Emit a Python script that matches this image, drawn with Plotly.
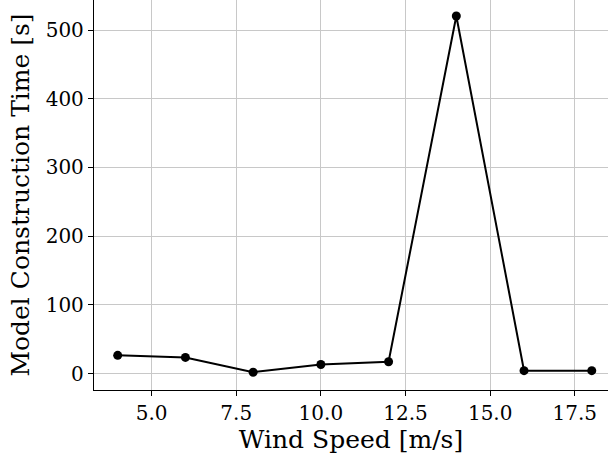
import plotly.graph_objects as go

wind_speed = [4, 6, 8, 10, 12, 14, 16, 18]
construction_time = [26.6, 23.5, 2.0, 13.2, 17.2, 520.5, 4.3, 4.3]

x_ticks = [5.0, 7.5, 10.0, 12.5, 15.0, 17.5]
x_tick_labels = ["5.0", "7.5", "10.0", "12.5", "15.0", "17.5"]
y_ticks = [0, 100, 200, 300, 400, 500]

fig = go.Figure()
fig.add_trace(go.Scatter(
    x=wind_speed, y=construction_time, mode="lines+markers",
    line=dict(color="black", width=2),
    marker=dict(color="black", size=9),
    showlegend=False,
))

font_family = "DejaVu Serif"
fig.update_layout(
    width=608, height=461,
    margin=dict(l=94, r=0, t=0, b=71),
    paper_bgcolor="white", plot_bgcolor="white",
    font=dict(family=font_family, color="black"),
    xaxis=dict(
        range=[3.3, 18.48],
        tickvals=x_ticks, ticktext=x_tick_labels,
        showgrid=True, gridcolor="#c8c8c8", gridwidth=1,
        showline=True, linecolor="black", linewidth=1.3,
        ticks="outside", ticklen=5, tickwidth=1.2, tickcolor="black",
        tickfont=dict(size=20, family=font_family),
        title=dict(text="Wind Speed [m/s]", font=dict(size=25, family=font_family), standoff=2),
        zeroline=False,
    ),
    yaxis=dict(
        range=[-23.9, 543.8],
        tickvals=y_ticks,
        showgrid=True, gridcolor="#c8c8c8", gridwidth=1,
        showline=True, linecolor="black", linewidth=1.3,
        ticks="outside", ticklen=5, tickwidth=1.2, tickcolor="black",
        tickfont=dict(size=20, family=font_family),
        title=dict(text="Model Construction Time [s]", font=dict(size=25, family=font_family), standoff=8),
        zeroline=False,
    ),
)

fig.write_html("out.html")
